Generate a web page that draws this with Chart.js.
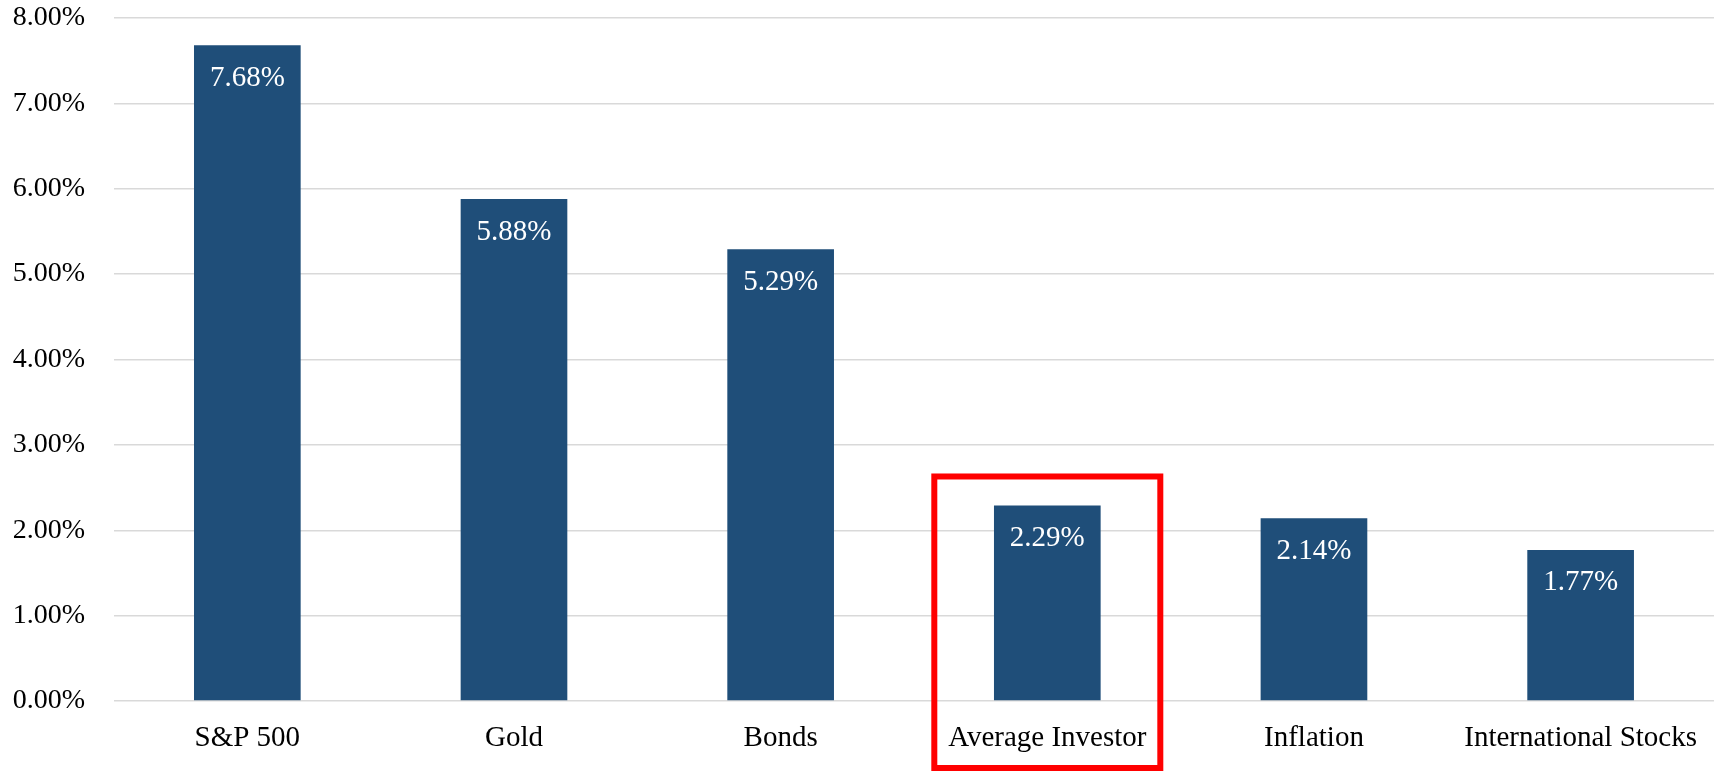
<!DOCTYPE html>
<html>
<head>
<meta charset="utf-8">
<script src="https://cdn.jsdelivr.net/npm/chart.js@4.4.1/dist/chart.umd.min.js"></script>
<style>
  html, body { margin: 0; padding: 0; background: #ffffff; }
  #wrap { width: 1717px; height: 771px; position: relative; }
</style>
</head>
<body>
<div id="wrap">
    <canvas id="returnsChart"></canvas>
</div>

<script>
// Annualised returns by asset class
const categories = ['S&P 500', 'Gold', 'Bonds', 'Average Investor', 'Inflation', 'International Stocks'];
const returns = [7.68, 5.88, 5.29, 2.29, 2.14, 1.77];
const yTicks = [0, 1, 2, 3, 4, 5, 6, 7, 8];
const highlightIndex = 3; // boxed in red

const BAR_COLOR = '#1F4E79';
const GRID_COLOR = '#d9d9d9';
const SERIF = "'Liberation Serif', 'Times New Roman', serif";

// white value labels just inside the top of each bar
const barLabels = {
    id: 'barLabels',
    afterDatasetsDraw(chart) {
        const ctx = chart.ctx;
        const meta = chart.getDatasetMeta(0);
        ctx.save();
        ctx.fillStyle = '#ffffff';
        ctx.font = '29px ' + SERIF;
        ctx.textAlign = 'center';
        ctx.textBaseline = 'middle';
        meta.data.forEach((bar, i) => {
            ctx.fillText(returns[i].toFixed(2) + '%', bar.x, bar.y + 33);
        });
        ctx.restore();
    }
};

// red outline round the highlighted bar and its label
const highlightBox = {
    id: 'highlightBox',
    afterDraw(chart) {
        const ctx = chart.ctx;
        const x = chart.scales.x.getPixelForValue(highlightIndex);
        const top = chart.scales.y.getPixelForValue(returns[highlightIndex]) - 29;
        const halfW = 113;
        ctx.save();
        ctx.strokeStyle = '#ff0000';
        ctx.lineWidth = 6;
        ctx.strokeRect(x - halfW, top, halfW * 2, chart.height - 3 - top);
        ctx.restore();
    }
};

new Chart(document.getElementById('returnsChart'), {
    type: 'bar',
    data: {
        labels: categories,
        datasets: [{
            data: returns,
            backgroundColor: BAR_COLOR,
            borderWidth: 0,
            barPercentage: 0.4,
            categoryPercentage: 1.0
        }]
    },
    options: {
        responsive: true,
        maintainAspectRatio: false,
        animation: false,
        layout: { padding: { top: 18, right: 0, bottom: 0, left: 0 } },
        plugins: {
            legend: { display: false },
            tooltip: { enabled: false }
        },
        scales: {
            x: {
                grid: { display: false, drawTicks: false },
                border: { display: false },
                ticks: {
                    color: '#000000',
                    font: { family: SERIF, size: 29 },
                    padding: 20,
                    maxRotation: 0,
                    autoSkip: false
                },
                afterFit(scale) { scale.height = 70; }
            },
            y: {
                min: 0,
                max: 8,
                afterBuildTicks(scale) {
                    scale.ticks = yTicks.map(v => ({ value: v }));
                },
                grid: { color: GRID_COLOR, lineWidth: 1.5, drawTicks: false },
                border: { display: false },
                ticks: {
                    color: '#000000',
                    font: { family: SERIF, size: 28 },
                    padding: 29,
                    callback: v => v.toFixed(2) + '%'
                },
                afterFit(scale) {
                    scale.width = 114;
                    scale.paddingTop = 0;
                    scale.paddingBottom = 0;
                }
            }
        }
    },
    plugins: [barLabels, highlightBox]
});
</script>
</body>
</html>
